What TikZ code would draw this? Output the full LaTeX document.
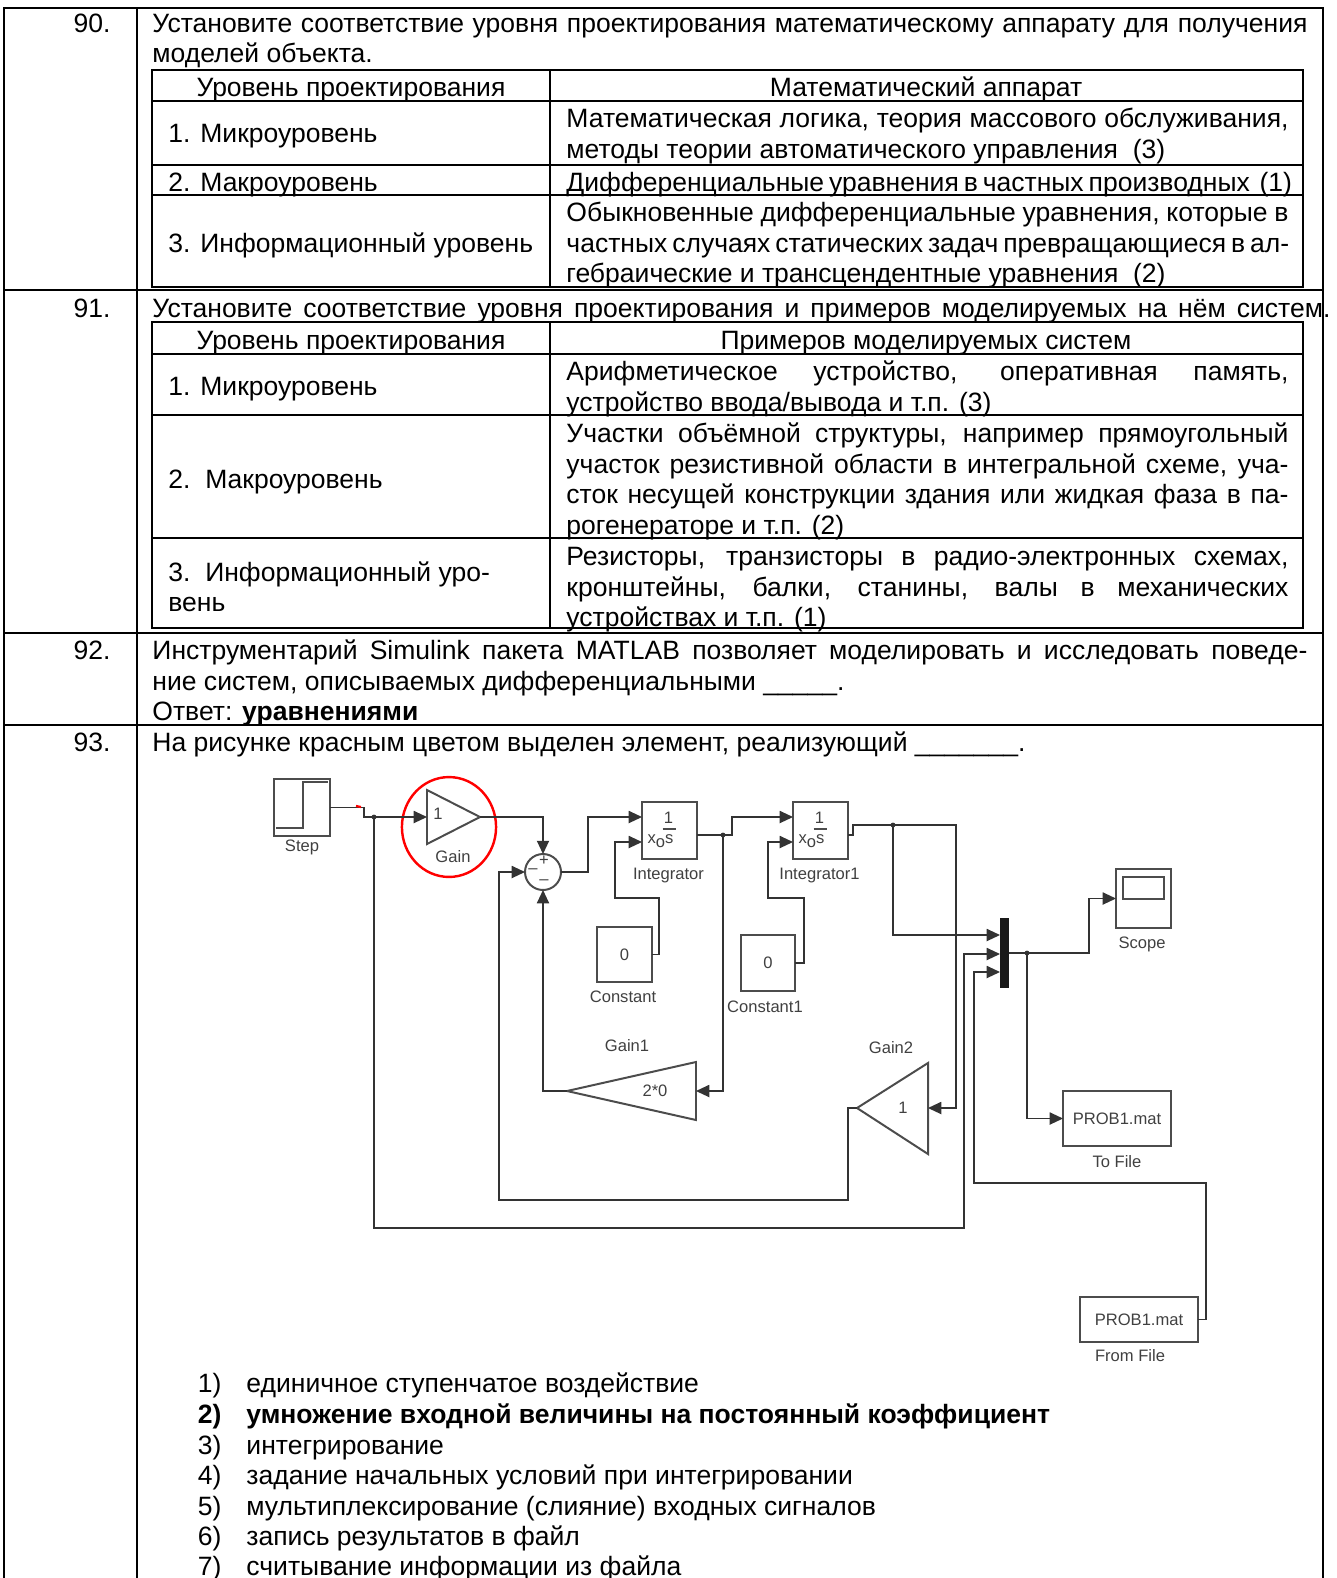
\documentclass[tikz,border=0pt]{standalone}
\usepackage{fontspec}
\setmainfont{Liberation Sans}
\usetikzlibrary{arrows.meta}
\newdimen\pxu
\pxu=0.4525pt
\newcommand{\jl}[2]{\hbox to #1\pxu{#2}}
\newcommand{\simfont}{\fontsize{7.5}{9}\selectfont\color{black!75}}
\begin{document}
\begin{tikzpicture}[x=0.4525pt,y=-0.4525pt,font=\fontsize{12}{13.8}\selectfont,
	tbl/.style={line width=0.9pt},
	txt/.style={anchor=base west,inner sep=0pt},
	num/.style={anchor=base east,inner sep=0pt},
	blk/.style 2 args={draw=black!70,line width=0.9pt,minimum width=#1*\pxu,minimum height=#2*\pxu,inner sep=0pt,outer sep=0pt,font=\simfont},
	blkline/.style={draw=black!70,line width=0.9pt},
	lbl/.style={inner sep=0pt,font=\simfont},
	wire/.style={draw=black!80,line width=0.6pt},
	sig/.style={wire,-{Triangle[length=6pt,width=5.5pt]}}]
	\useasboundingbox (0,0) rectangle (1337,1578);
	% table
	\draw[tbl] (4,1578) -- (4,8) -- (1323,8) -- (1323,1578);
	\draw[tbl] (137,8) -- (137,1578);
	\foreach \y in {290,633,725} \draw[tbl] (4,\y) -- (1323,\y);
	\draw[tbl] (152,70) rectangle (1303,287) (550,70) -- (550,287);
	\foreach \y in {101,165,195} \draw[tbl] (152,\y) -- (1303,\y);
	\draw[tbl] (152,322) rectangle (1303,628) (550,322) -- (550,628);
	\foreach \y in {354,415,538} \draw[tbl] (152,\y) -- (1303,\y);
	\node[num] (n90) at (111,32) {90.};
	\node[num] (n91) at (111,317) {91.};
	\node[num] (n92) at (111,659) {92.};
	\node[num] (n93) at (111,751) {93.};
	% 90
	\node[txt] (q90a) at (152,32) {\jl{1155}{Установите соответствие уровня проектирования математическому аппарату для получения}};
	\node[txt] (q90b) at (152,62) {моделей объекта.};
	\node[txt,anchor=base] (h90a) at (351,96) {Уровень проектирования};
	\node[txt,anchor=base] (h90b) at (926,96) {Математический аппарат};
	\node[txt] (l90a) at (168,142) {1. Микроуровень};
	\node[txt] (r90a) at (566,127) {\jl{722}{Математическая логика, теория массового обслуживания,}};
	\node[txt] (r90b) at (566,158) {методы теории автоматического управления\ \ (3)};
	\node[txt] (l90b) at (168,191) {2. Макроуровень};
	\node[txt] (r90c) at (566,191) {\jl{712}{Дифференциальные уравнения в частных производных\ \ (1)}};
	\node[txt] (l90c) at (168,252) {3. Информационный уровень};
	\node[txt] (r90d) at (566,221) {\jl{722}{Обыкновенные дифференциальные уравнения, которые в}};
	\node[txt] (r90e) at (566,252) {\jl{722}{частных случаях статических задач превращающиеся в ал-}};
	\node[txt] (r90f) at (566,282) {гебраические и трансцендентные уравнения\ \ (2)};
	% 91
	\node[txt] (q91a) at (152,317) {\jl{1178}{Установите соответствие уровня проектирования и примеров моделируемых на нём систем.}};
	\node[txt,anchor=base] (h91a) at (351,349) {Уровень проектирования};
	\node[txt,anchor=base] (h91b) at (926,349) {Примеров моделируемых систем};
	\node[txt] (l91a) at (168,395) {1. Микроуровень};
	\node[txt] (r91a) at (566,380) {\jl{722}{Арифметическое устройство, оперативная память,}};
	\node[txt] (r91b) at (566,411) {устройство ввода/вывода и т.п. (3)};
	\node[txt] (l91b) at (168,488) {2.\ \ Макроуровень};
	\node[txt] (r91c) at (566,442) {\jl{722}{Участки объёмной структуры, например прямоугольный}};
	\node[txt] (r91d) at (566,473) {\jl{722}{участок резистивной области в интегральной схеме, уча-}};
	\node[txt] (r91e) at (566,503) {\jl{722}{сток несущей конструкции здания или жидкая фаза в па-}};
	\node[txt] (r91f) at (566,534) {рогенераторе и т.п. (2)};
	\node[txt] (l91c) at (168,581) {3.\ \ Информационный уро-};
	\node[txt] (l91d) at (168,611) {вень};
	\node[txt] (r91g) at (566,565) {\jl{722}{Резисторы, транзисторы в радио-электронных схемах,}};
	\node[txt] (r91h) at (566,596) {\jl{722}{кронштейны, балки, станины, валы в механических}};
	\node[txt] (r91i) at (566,626) {устройствах и т.п. (1)};
	% 92, 93
	\node[txt] (q92a) at (152,659) {\jl{1155}{Инструментарий Simulink пакета MATLAB позволяет моделировать и исследовать поведе-}};
	\node[txt] (q92b) at (152,690) {ние систем, описываемых дифференциальными \_\_\_\_\_.};
	\node[txt] (q92c) at (152,720) {Ответ: \textbf{уравнениями}};
	\node[txt] (q93a) at (152,751) {На рисунке красным цветом выделен элемент, реализующий \_\_\_\_\_\_\_.};
	% simulink model
	\node[blk={56}{57}] (step) at (302,807.5) {};
	\draw[blkline] (276,828) -- (303,828) -- (303,782) -- (328,782);
	\node[lbl] (steplbl) at (302,847) {Step};
	\coordinate (gainin) at (427,817);
	\coordinate (gainout) at (480,817);
	\draw[blkline] (427,790) -- (480,817) -- (427,844) -- cycle;
	\node[lbl] (gainval) at (438,814) {1};
	\node[lbl] (gainlbl) at (453,857) {Gain};
	\draw[red,line width=1.1pt] (449,827) ellipse [x radius=21.3pt,y radius=22.6pt];
	\node[draw=black!70,line width=0.9pt,circle,minimum size=36*\pxu,inner sep=0pt,outer sep=0pt] (sum) at (543,872) {};
	\node[lbl] (sump) at (544,861) {+};
	\node[lbl] (suml) at (533,871) {–};
	\node[lbl] (sumb) at (544,882) {–};
	\foreach \nm/\cx/\lb in {inta/669.5/Integrator,intb/820.5/Integrator1}{
		\node[blk={55}{57}] (\nm) at (\cx,830.5) {};
		\node[lbl] (\nm-n) at (\cx-1,818) {1};
		\draw[blkline,line width=0.6pt] (\cx-7,829) -- (\cx+6,829);
		\node[lbl] (\nm-d) at (\cx-9,841) {x\raisebox{-1.5pt}{o}s};
		\node[lbl] (\nm-l) at (\cx-1,876) {\lb};
		\coordinate (\nm-i1) at (\cx-27.5,817);
		\coordinate (\nm-i2) at (\cx-27.5,842);
		\coordinate (\nm-o) at (\cx+27.5,835);
	}
	\node[blk={55}{55}] (consta) at (624.5,954.5) {0};
	\node[lbl] (constal) at (623,997) {Constant};
	\node[blk={54}{56}] (constb) at (768,963) {0};
	\node[lbl] (constbl) at (765,1007) {Constant1};
	\coordinate (gaina-in) at (696,1091);
	\coordinate (gaina-out) at (567,1091);
	\draw[blkline] (696,1062) -- (696,1120) -- (567,1091) -- cycle;
	\node[lbl] (gainaval) at (655,1091) {2*0};
	\node[lbl] (gainal) at (627,1046) {Gain1};
	\coordinate (gainb-in) at (928,1108);
	\coordinate (gainb-out) at (857,1108);
	\draw[blkline] (928,1063) -- (928,1154) -- (857,1108) -- cycle;
	\node[lbl] (gainbval) at (903,1108) {1};
	\node[lbl] (gainbl) at (891,1048) {Gain2};
	\node[fill=black!90,inner sep=0pt,minimum width=9*\pxu,minimum height=70*\pxu] (mux) at (1004.5,953) {};
	\coordinate (mux-i1) at (1000,935);
	\coordinate (mux-i2) at (1000,954);
	\coordinate (mux-i3) at (1000,972);
	\node[blk={55}{59}] (scope) at (1143.5,898.5) {};
	\draw[blkline] (1123,877) rectangle (1164,899);
	\node[lbl] (scopel) at (1142,944) {Scope};
	\node[blk={108}{55}] (tofile) at (1117,1118.5) {PROB1.mat};
	\node[lbl] (tofilel) at (1117,1162) {To File};
	\node[blk={118}{45}] (fromfile) at (1139,1319.5) {PROB1.mat};
	\node[lbl] (fromfilel) at (1130,1356) {From File};
	% wires
	\coordinate (jstep) at (374,817);
	\coordinate (ja) at (723,835);
	\coordinate (jb) at (893,825);
	\coordinate (kb) at (956,825);
	\coordinate (jm) at (1027,953);
	\draw[sig] (step.east) -- ++(34,0) |- (gainin);
	\draw[red,line width=1pt] (356,806) -- (361,807);
	\draw[sig] (gainout) -| (sum.north);
	\draw[sig] (sum.east) -- (588,872) |- (inta-i1);
	\draw[sig] (consta.east) -- ++(7,0) |- (615,898) |- (inta-i2);
	\draw[sig] (inta-o) -- (732,835) |- (intb-i1);
	\draw[sig] (ja) |- (gaina-in);
	\draw[sig] (gaina-out) -| (sum.south);
	\draw[sig] (constb.east) -- ++(9,0) |- (768,898) |- (intb-i2);
	\draw[sig] (intb-o) -- ++(5,0) |- (kb) |- (gainb-in);
	\draw[sig] (jb) |- (mux-i1);
	\draw[sig] (gainb-out) -- (848,1108) |- (499,1200) |- (sum.west);
	\draw[sig] (jstep) |- (964,1228) |- (mux-i2);
	\draw[sig] (fromfile.east) -- ++(8,0) |- (974,1183) |- (mux-i3);
	\draw[sig] (mux.east) -- (1089,953) |- (scope.west);
	\draw[sig] (jm) |- (tofile.west);
	\foreach \p in {jstep,ja,jb,jm} \fill[black!80] (\p) circle (1.1pt);
	% answers
	\node[num] (a1n) at (222,1392) {1)};
	\node[txt] (a1) at (246,1392) {единичное ступенчатое воздействие};
	\node[num] (a2n) at (222,1423) {\textbf{2)}};
	\node[txt] (a2) at (246,1423) {\textbf{умножение входной величины на постоянный коэффициент}};
	\node[num] (a3n) at (222,1454) {3)};
	\node[txt] (a3) at (246,1454) {интегрирование};
	\node[num] (a4n) at (222,1484) {4)};
	\node[txt] (a4) at (246,1484) {задание начальных условий при интегрировании};
	\node[num] (a5n) at (222,1515) {5)};
	\node[txt] (a5) at (246,1515) {мультиплексирование (слияние) входных сигналов};
	\node[num] (a6n) at (222,1545) {6)};
	\node[txt] (a6) at (246,1545) {запись результатов в файл};
	\node[num] (a7n) at (222,1575) {7)};
	\node[txt] (a7) at (246,1575) {считывание информации из файла};
\end{tikzpicture}
\end{document}
